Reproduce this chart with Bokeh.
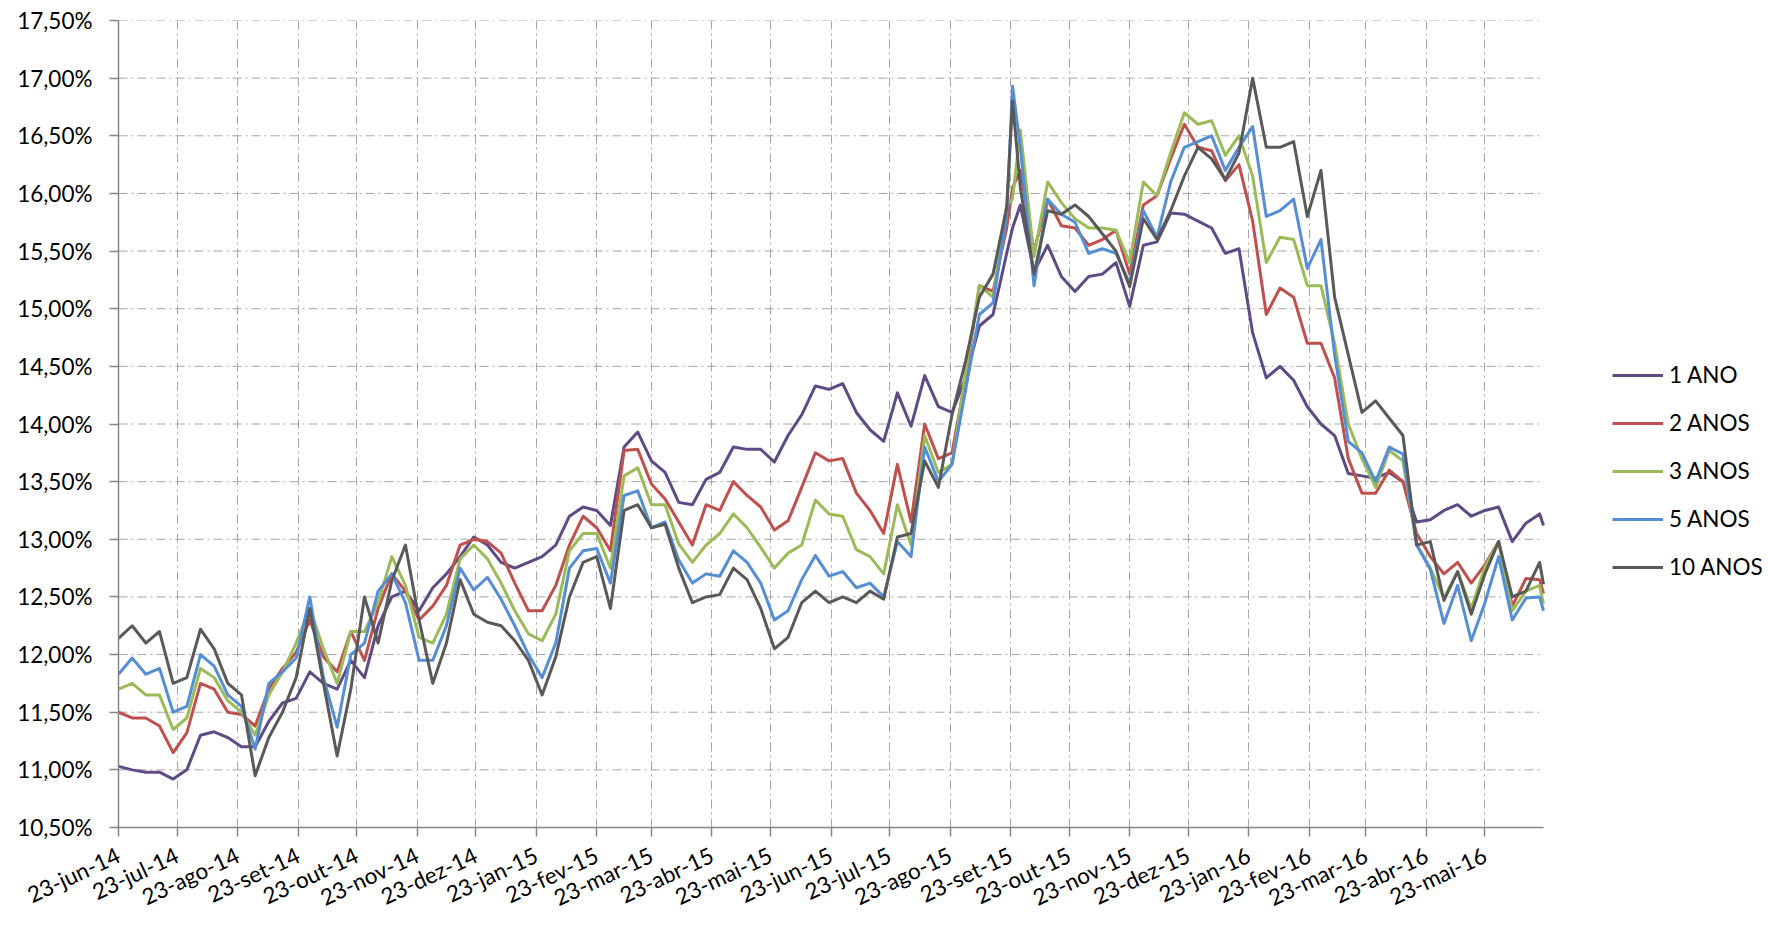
import numpy as np
import pandas as pd
from bokeh.plotting import figure
from bokeh.models import Range1d, FixedTicker, Legend, LegendItem, ColumnDataSource
from bokeh.embed import file_html
from bokeh.resources import INLINE

# ---------------- data ----------------
week_dates = list(pd.date_range("2014-06-23", "2016-06-20", freq="7D"))
dates = week_dates[:66] + [pd.Timestamp("2015-09-24")] + week_dates[66:] + [pd.Timestamp("2016-06-22")]

ano1 = [11.03, 11.00, 10.98, 10.98, 10.92, 11.00, 11.30, 11.33, 11.28, 11.20,
        11.20, 11.42, 11.58, 11.62, 11.85, 11.75, 11.70, 11.95, 11.80, 12.25,
        12.50, 12.55, 12.38, 12.58, 12.70, 12.85, 13.02, 12.95, 12.80, 12.75,
        12.80, 12.85, 12.95, 13.20, 13.28, 13.25, 13.12, 13.80, 13.93, 13.68,
        13.58, 13.32, 13.30, 13.52, 13.58, 13.80, 13.78, 13.78, 13.67, 13.90,
        14.08, 14.33, 14.30, 14.35, 14.10, 13.95, 13.85, 14.27, 13.98, 14.42,
        14.15, 14.10, 14.40, 14.85, 14.95, 15.48,
        15.70,
        15.90, 15.32, 15.55, 15.28,
        15.15, 15.28, 15.30, 15.40, 15.02, 15.55, 15.58, 15.83, 15.82, 15.76,
        15.70, 15.48, 15.52, 14.79, 14.40, 14.50, 14.38, 14.15, 14.00, 13.90,
        13.57, 13.55, 13.53, 13.58, 13.50, 13.15, 13.17, 13.25, 13.30, 13.20,
        13.25, 13.28, 12.98, 13.14, 13.22,
        13.12]

anos2 = [11.50, 11.45, 11.45, 11.38, 11.15, 11.32, 11.75, 11.70, 11.50, 11.48,
         11.38, 11.70, 11.88, 12.02, 12.30, 11.98, 11.85, 12.20, 11.95, 12.40,
         12.70, 12.55, 12.30, 12.42, 12.60, 12.95, 13.00, 12.98, 12.88, 12.62,
         12.38, 12.38, 12.60, 12.95, 13.20, 13.10, 12.90, 13.77, 13.78, 13.48,
         13.35, 13.15, 12.95, 13.30, 13.25, 13.50, 13.38, 13.28, 13.08, 13.16,
         13.45, 13.75, 13.68, 13.70, 13.40, 13.25, 13.05, 13.65, 13.15, 14.00,
         13.70, 13.75, 14.40, 15.20, 15.15, 15.70,
         16.05,
         16.20, 15.50, 15.95, 15.72,
         15.70, 15.55, 15.60, 15.68, 15.30, 15.90, 15.98, 16.30, 16.60, 16.40,
         16.37, 16.11, 16.25, 15.76, 14.95, 15.18, 15.10, 14.70, 14.70, 14.40,
         13.70, 13.40, 13.40, 13.60, 13.50, 13.05, 12.85, 12.70, 12.80, 12.62,
         12.78, 12.98, 12.42, 12.66, 12.65,
         12.53]

anos3 = [11.70, 11.75, 11.65, 11.65, 11.35, 11.45, 11.88, 11.80, 11.60, 11.50,
         11.30, 11.65, 11.85, 12.10, 12.40, 12.05, 11.75, 12.20, 12.20, 12.45,
         12.85, 12.60, 12.15, 12.10, 12.35, 12.83, 12.95, 12.83, 12.62, 12.38,
         12.18, 12.12, 12.35, 12.90, 13.05, 13.05, 12.75, 13.55, 13.62, 13.30,
         13.30, 12.96, 12.80, 12.95, 13.05, 13.22, 13.10, 12.93, 12.75, 12.88,
         12.95, 13.34, 13.22, 13.20, 12.91, 12.85, 12.70, 13.30, 12.95, 13.90,
         13.58, 13.65, 14.45, 15.20, 15.10, 15.90,
         15.95,
         16.55, 15.45, 16.10, 15.92,
         15.78, 15.70, 15.70, 15.68, 15.40, 16.10, 15.98, 16.35, 16.70, 16.60,
         16.63, 16.33, 16.50, 16.15, 15.40, 15.62, 15.60, 15.20, 15.20, 14.70,
         14.00, 13.70, 13.45, 13.77, 13.68, 12.96, 12.75, 12.49, 12.72, 12.40,
         12.76, 12.98, 12.38, 12.55, 12.60,
         12.44]

anos5 = [11.83, 11.97, 11.83, 11.88, 11.50, 11.55, 12.00, 11.90, 11.65, 11.55,
         11.18, 11.75, 11.85, 11.97, 12.50, 11.80, 11.37, 12.00, 12.10, 12.55,
         12.70, 12.45, 11.95, 11.95, 12.25, 12.75, 12.56, 12.67, 12.48, 12.25,
         12.00, 11.80, 12.10, 12.75, 12.90, 12.92, 12.62, 13.38, 13.42, 13.10,
         13.15, 12.82, 12.62, 12.70, 12.68, 12.90, 12.80, 12.62, 12.30, 12.38,
         12.65, 12.86, 12.68, 12.72, 12.58, 12.62, 12.50, 12.98, 12.85, 13.80,
         13.50, 13.65, 14.30, 14.95, 15.05, 15.80,
         16.93,
         16.40, 15.20, 15.95, 15.82,
         15.75, 15.48, 15.52, 15.48, 15.22, 15.85, 15.62, 16.10, 16.40, 16.45,
         16.50, 16.20, 16.40, 16.58, 15.80, 15.85, 15.95, 15.35, 15.60, 14.60,
         13.85, 13.75, 13.50, 13.80, 13.74, 12.95, 12.74, 12.27, 12.60, 12.12,
         12.45, 12.85, 12.30, 12.49, 12.50,
         12.38]

anos10 = [12.14, 12.25, 12.10, 12.20, 11.75, 11.80, 12.22, 12.05, 11.75, 11.65,
          10.95, 11.28, 11.50, 11.80, 12.40, 11.75, 11.12, 11.70, 12.50, 12.10,
          12.64, 12.95, 12.30, 11.75, 12.10, 12.65, 12.35, 12.28, 12.25, 12.12,
          11.95, 11.65, 11.98, 12.50, 12.80, 12.85, 12.40, 13.25, 13.30, 13.10,
          13.13, 12.75, 12.45, 12.50, 12.52, 12.75, 12.65, 12.40, 12.05, 12.15,
          12.45, 12.55, 12.45, 12.50, 12.45, 12.55, 12.48, 13.02, 13.05, 13.68,
          13.45, 14.08, 14.55, 15.10, 15.30, 15.88,
          16.80,
          16.05, 15.30, 15.85, 15.82,
          15.90, 15.80, 15.65, 15.50, 15.19, 15.78, 15.60, 15.85, 16.15, 16.40,
          16.30, 16.12, 16.35, 17.00, 16.40, 16.40, 16.45, 15.80, 16.20, 15.10,
          14.60, 14.10, 14.20, 14.05, 13.90, 12.95, 12.98, 12.47, 12.72, 12.35,
          12.70, 12.98, 12.50, 12.55, 12.80,
          12.61]

series_names = ["1 ANO", "2 ANOS", "3 ANOS", "5 ANOS", "10 ANOS"]
series_colors = ["#5F4A86", "#C0504D", "#9BBB59", "#558ED5", "#595959"]

y_ticks = [10.5, 11.0, 11.5, 12.0, 12.5, 13.0, 13.5, 14.0, 14.5, 15.0, 15.5, 16.0, 16.5, 17.0, 17.5]
y_tick_labels = ["10,50%", "11,00%", "11,50%", "12,00%", "12,50%", "13,00%", "13,50%", "14,00%",
                 "14,50%", "15,00%", "15,50%", "16,00%", "16,50%", "17,00%", "17,50%"]

x_tick_dates = ["2014-06-23", "2014-07-23", "2014-08-23", "2014-09-23", "2014-10-23", "2014-11-23",
                "2014-12-23", "2015-01-23", "2015-02-23", "2015-03-23", "2015-04-23", "2015-05-23",
                "2015-06-23", "2015-07-23", "2015-08-23", "2015-09-23", "2015-10-23", "2015-11-23",
                "2015-12-23", "2016-01-23", "2016-02-23", "2016-03-23", "2016-04-23", "2016-05-23"]
x_tick_labels = ["23-jun-14", "23-jul-14", "23-ago-14", "23-set-14", "23-out-14", "23-nov-14",
                 "23-dez-14", "23-jan-15", "23-fev-15", "23-mar-15", "23-abr-15", "23-mai-15",
                 "23-jun-15", "23-jul-15", "23-ago-15", "23-set-15", "23-out-15", "23-nov-15",
                 "23-dez-15", "23-jan-16", "23-fev-16", "23-mar-16", "23-abr-16", "23-mai-16"]


def to_ms(d):
    return pd.Timestamp(d).value / 1e6


x_ms = [to_ms(d) for d in dates]
x_tick_ms = [to_ms(d) for d in x_tick_dates]

FONT = "Lato"
FONT_SIZE = "22.5px"

# ---------------- layout ----------------
FIG_W, FIG_H = 1768, 926
BORDER_L, BORDER_T, BORDER_B = 118, 20, 99
DATA_W = 1425                      # pixel width of the dated part of the frame
FRAME_W = FIG_W - BORDER_L         # frame runs to the right edge; legend sits in it
x_start, x_stop = to_ms("2014-06-23"), to_ms("2016-06-22")
x_view_end = x_start + (x_stop - x_start) * FRAME_W / DATA_W

p = figure(width=FIG_W, height=FIG_H, output_backend="svg", toolbar_location=None,
           x_range=Range1d(x_start, x_view_end),
           y_range=Range1d(10.5, 17.5),
           min_border_left=BORDER_L, min_border_top=BORDER_T, min_border_bottom=BORDER_B,
           min_border_right=0)
p.outline_line_color = None
p.background_fill_color = "white"
p.border_fill_color = "white"

GRID_COLOR = "#A6A6A6"
GRID_DASH = "9 4 2 4"

# vertical grid (monthly ticks)
p.xgrid.grid_line_color = GRID_COLOR
p.xgrid.grid_line_width = 1
p.xgrid.grid_line_dash = GRID_DASH
# horizontal grid drawn only across the dated span
p.ygrid.visible = False
gy = [t for t in y_ticks if t > y_ticks[0]]
p.segment(x0=[x_start] * len(gy), y0=gy, x1=[x_stop] * len(gy), y1=gy,
          line_color=GRID_COLOR, line_width=1, line_dash=GRID_DASH)

# axes
p.yaxis.ticker = FixedTicker(ticks=y_ticks)
p.yaxis.major_label_overrides = {t: l for t, l in zip(y_ticks, y_tick_labels)}
p.xaxis.ticker = FixedTicker(ticks=x_tick_ms)
p.xaxis.major_label_overrides = {t: l for t, l in zip(x_tick_ms, x_tick_labels)}
p.xaxis.major_label_orientation = 0.44
p.xaxis.bounds = (x_start, x_stop)

for ax in (p.xaxis, p.yaxis):
    ax.axis_line_color = "#868686"
    ax.axis_line_width = 1.5
    ax.major_tick_line_color = "#868686"
    ax.major_tick_line_width = 1.5
    ax.major_tick_out = 9
    ax.major_tick_in = 0
    ax.minor_tick_line_color = None
    ax.major_label_text_font = FONT
    ax.major_label_text_font_size = FONT_SIZE
    ax.major_label_text_color = "#000000"
p.yaxis.major_label_standoff = 17
p.xaxis.major_label_standoff = 17

# lines
renderers = []
for name, col, vals in zip(series_names, series_colors, [ano1, anos2, anos3, anos5, anos10]):
    src = ColumnDataSource(dict(x=x_ms, y=vals))
    r = p.line("x", "y", source=src, line_color=col, line_width=3, line_join="round")
    renderers.append(r)

legend = Legend(items=[LegendItem(label=n, renderers=[r]) for n, r in zip(series_names, renderers)],
                location=(1494, 247), orientation="vertical",
                glyph_width=51, glyph_height=20, label_standoff=6, spacing=21,
                padding=10, margin=0, border_line_color=None, background_fill_alpha=0,
                label_text_font=FONT, label_text_font_size=FONT_SIZE, label_text_color="#000000")
p.add_layout(legend)

open("out.html", "w").write(file_html(p, INLINE))
